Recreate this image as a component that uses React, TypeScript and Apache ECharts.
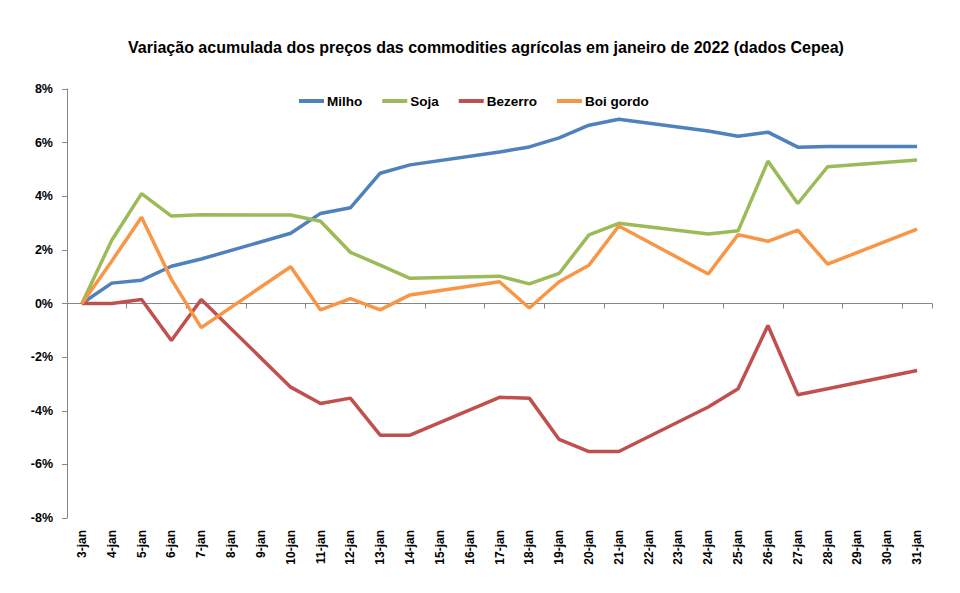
import React, { useEffect, useRef } from "react";
import * as echarts from "echarts";

const categories = [
  "3-jan", "4-jan", "5-jan", "6-jan", "7-jan", "8-jan", "9-jan", "10-jan", "11-jan", "12-jan",
  "13-jan", "14-jan", "15-jan", "16-jan", "17-jan", "18-jan", "19-jan", "20-jan", "21-jan", "22-jan",
  "23-jan", "24-jan", "25-jan", "26-jan", "27-jan", "28-jan", "29-jan", "30-jan", "31-jan",
];

// values in % ; null = no quotation (weekend)
const milho = [0, 0.76, 0.87, 1.39, 1.66, null, null, 2.62, 3.36, 3.57, 4.86, 5.17, null, null, 5.65, 5.84, 6.18, 6.65, 6.87, null, null, 6.43, 6.24, 6.39, 5.83, 5.86, null, null, 5.86];
const soja = [0, 2.36, 4.1, 3.26, 3.31, null, null, 3.3, 3.07, 1.91, 1.43, 0.94, null, null, 1.02, 0.73, 1.12, 2.56, 2.99, null, null, 2.59, 2.71, 5.31, 3.73, 5.1, null, null, 5.35];
const bezerro = [0, 0, 0.15, -1.38, 0.15, null, null, -3.12, -3.73, -3.53, -4.91, -4.91, null, null, -3.5, -3.53, -5.07, -5.52, -5.52, null, null, -3.86, -3.18, -0.82, -3.4, -3.18, null, null, -2.5];
const boiGordo = [0, 1.58, 3.22, 0.9, -0.9, null, null, 1.37, -0.24, 0.18, -0.24, 0.32, null, null, 0.81, -0.17, 0.81, 1.43, 2.89, null, null, 1.1, 2.57, 2.32, 2.74, 1.47, null, null, 2.77];

const seriesNames = ["Milho", "Soja", "Bezerro", "Boi gordo"];
const seriesData = [milho, soja, bezerro, boiGordo];
const colors = ["#4F81BD", "#9BBB59", "#C0504D", "#F79646"];

const titleText = "Variação acumulada dos preços das commodities agrícolas em janeiro de 2022 (dados Cepea)";

export default function App() {
  const ref = useRef<HTMLDivElement>(null);
  useEffect(() => {
    document.body.style.margin = "0";
    const chart = echarts.init(ref.current!, null, { renderer: "svg" });
    const font = "'Liberation Sans', Arial, sans-serif";
    chart.setOption({
      animation: false,
      backgroundColor: "#ffffff",
      textStyle: { fontFamily: font },
      graphic: [
        {
          type: "text",
          x: 486,
          y: 47,
          style: {
            text: titleText,
            fontFamily: font,
            fontWeight: "bold",
            fontSize: 16,
            fill: "#000",
            textAlign: "center",
            textVerticalAlign: "middle",
          },
        },
      ],
      legend: {
        left: 294,
        top: 89,
        itemWidth: 25,
        itemHeight: 4,
        itemGap: 20,
        icon: "rect",
        textStyle: { fontFamily: font, fontWeight: "bold", fontSize: 13.5, color: "#000", padding: [0, 0, 0, -2] },
        data: seriesNames,
      },
      grid: { left: 67, right: 28, top: 89, bottom: 75, containLabel: false },
      xAxis: [
        {
          type: "category",
          data: categories,
          position: "bottom",
          boundaryGap: true,
          axisLine: { show: true, onZero: true, lineStyle: { color: "#868686", width: 1 } },
          axisTick: { show: true, length: 5, inside: false, lineStyle: { color: "#868686" } },
          axisLabel: { show: false },
        },
        {
          type: "category",
          data: categories,
          position: "bottom",
          boundaryGap: true,
          axisLine: { show: false, onZero: false },
          axisTick: { show: false },
          axisLabel: {
            show: true,
            rotate: 90,
            margin: 12,
            interval: 0,
            fontFamily: font,
            fontWeight: "bold",
            fontSize: 12,
            color: "#000",
          },
        },
      ],
      yAxis: {
        type: "value",
        min: -8,
        max: 8,
        interval: 2,
        axisLine: { show: true, lineStyle: { color: "#868686", width: 1 } },
        axisTick: { show: true, length: 5, lineStyle: { color: "#868686" } },
        splitLine: { show: false },
        axisLabel: {
          formatter: (v: number) => `${v}%`,
          margin: 14,
          fontFamily: font,
          fontWeight: "bold",
          fontSize: 12.5,
          color: "#000",
        },
      },
      series: seriesNames.map((name, i) => ({
        name,
        type: "line",
        xAxisIndex: 0,
        data: seriesData[i],
        connectNulls: true,
        showSymbol: false,
        symbol: "none",
        itemStyle: { color: colors[i] },
        lineStyle: { color: colors[i], width: 3.5 },
      })),
    });
    return () => chart.dispose();
  }, []);
  return <div ref={ref} style={{ width: 960, height: 593 }} />;
}
